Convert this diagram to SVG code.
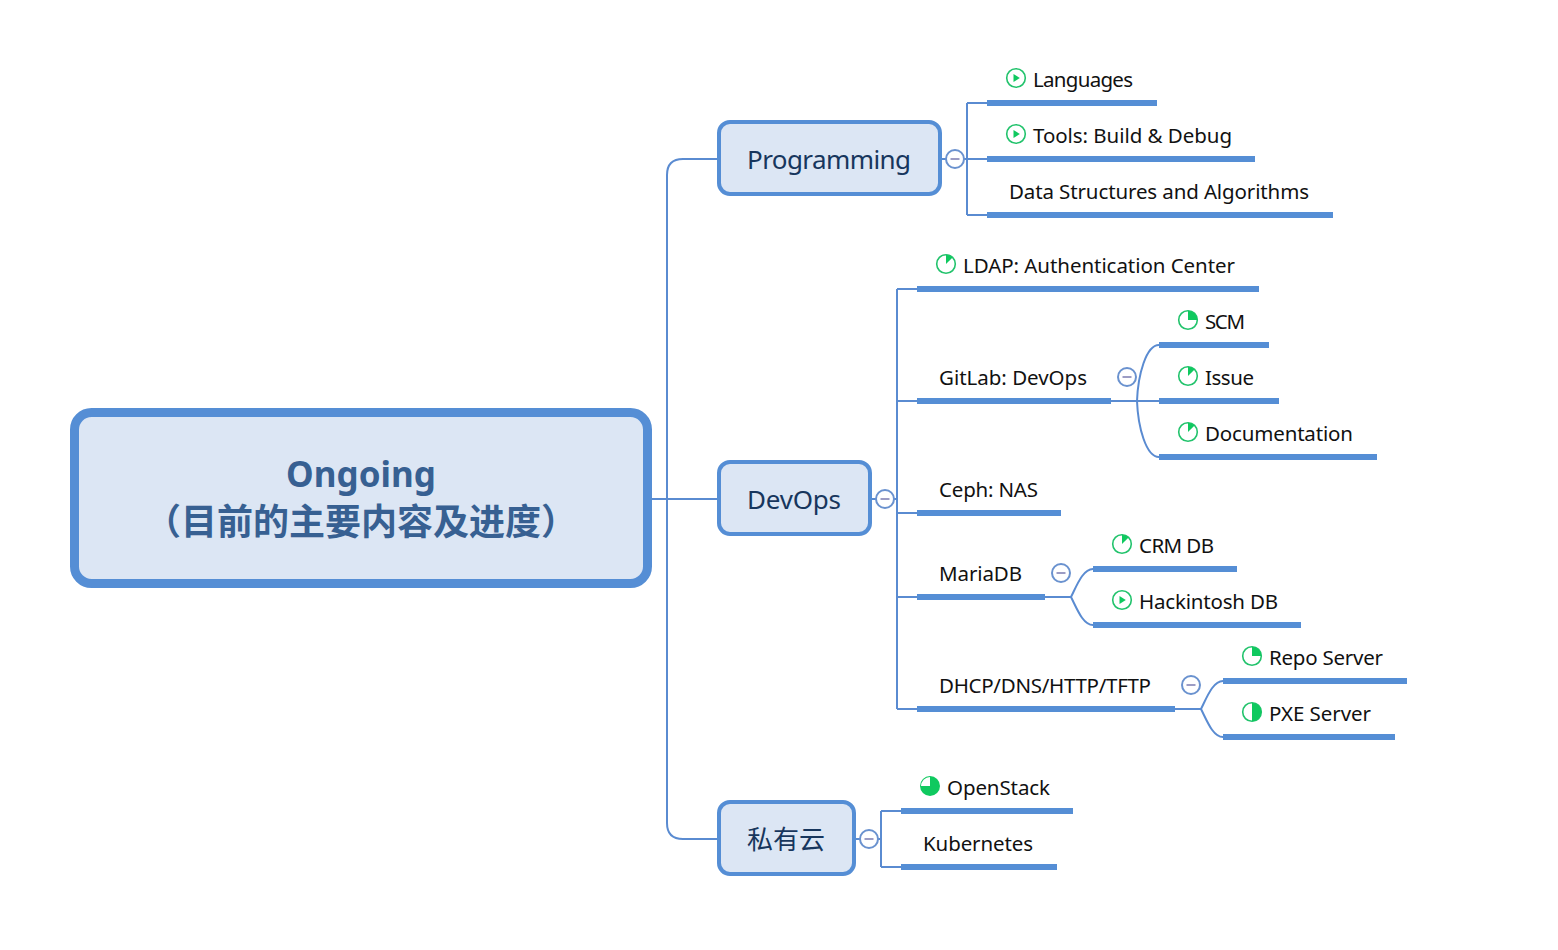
<svg xmlns="http://www.w3.org/2000/svg" width="1558" height="950" viewBox="0 0 1558 950">
<style>
text{font-family:"Noto Sans","Noto Sans CJK SC",sans-serif}
.c{fill:none;stroke:#5a8bd1;stroke-width:2}
.b{fill:#dce6f4;stroke:#558ed5}
.u{fill:#558ed5}
.t{font-size:20.5px;fill:#111}
.m{font-size:26px;fill:#17365d}
.r{font-size:35px;font-weight:700;fill:#376092;text-anchor:middle}
.k{fill:#fff;stroke:#6a92cf;stroke-width:2}
.d{stroke:#9c9cc4;stroke-width:2}
.i{fill:#fff;stroke:#22c36c;stroke-width:1.6}
.g{fill:#0fc95f}
</style>
<defs>
<g id="minus"><circle class="k" r="9"/><path class="d" d="M-4.500 0H4.500"/></g>
<g id="play"><circle class="i" r="9.300"/><path class="g" d="M-2.500-4 3.800 0-2.500 4Z"/></g>
<g id="p12"><circle class="i" r="9.300"/><path class="g" d="M0 0V-9.300A9.300 9.300 0 0 1 6.580-6.580Z"/></g>
<g id="p25"><circle class="i" r="9.300"/><path class="g" d="M0 0V-9.300A9.300 9.300 0 0 1 9.300 0Z"/></g>
<g id="p50"><circle class="i" r="9.300"/><path class="g" d="M0-9.300A9.300 9.300 0 0 1 0 9.300Z"/></g>
<g id="p75"><circle class="g" r="10"/><path fill="#fff" d="M0 0H-9A9 9 0 0 1 0-9Z"/></g>
</defs>
<g id="connectors">
<path class="c" d="M652 499H717"/>
<path class="c" d="M717 159H683Q667 159 667 175V823Q667 839 683 839H717"/>
<path class="c" d="M942 159H987M967 103H987M967 215H987M967 103V215"/>
<path class="c" d="M872 499H897M897 289V709M897 289H917M897 401H917M897 513H917M897 597H917M897 709H917"/>
<path class="c" d="M856 839H881M881 811V867M881 811H901M881 867H901"/>
<path class="c" d="M1111 401H1159M1159 345C1146 345 1138 375 1137 401C1138 427 1146 457 1159 457"/>
<path class="c" d="M1045 597H1071M1093 569C1083 569 1077 585 1071 597C1077 609 1083 625 1093 625"/>
<path class="c" d="M1175 709H1201M1223 681C1213 681 1207 697 1201 709C1207 721 1213 737 1223 737"/>
</g>
<g id="root"><rect class="b" x="74.500" y="412.500" width="573" height="171" rx="17" stroke-width="9"/>
<text class="r" x="361" y="487">Ongoing</text><text class="r" x="361" y="535" style="font-family:'Noto Sans CJK SC',sans-serif;font-size:36px">（目前的主要内容及进度）</text></g>
<g id="programming"><rect class="b" x="719" y="122" width="221" height="72" rx="11" stroke-width="4"/><text class="m" x="747" y="169" textLength="164">Programming</text><use href="#minus" x="955" y="159"/></g>
<g id="devops"><rect class="b" x="719" y="462" width="151" height="72" rx="11" stroke-width="4"/><text class="m" x="747" y="509" textLength="94">DevOps</text><use href="#minus" x="885" y="499"/></g>
<g id="cloud"><rect class="b" x="719" y="802" width="135" height="72" rx="11" stroke-width="4"/><text class="m" x="747" y="849" style="font-family:'Noto Sans CJK SC',sans-serif">私有云</text><use href="#minus" x="869" y="839"/></g>
<g id="languages"><rect class="u" x="987" y="100" width="170" height="6"/><use href="#play" x="1016" y="78"/><text class="t" x="1033" y="87" textLength="100">Languages</text></g>
<g id="tools"><rect class="u" x="987" y="156" width="268" height="6"/><use href="#play" x="1016" y="134"/><text class="t" x="1033" y="143" textLength="199">Tools: Build &amp; Debug</text></g>
<g id="dsa"><rect class="u" x="987" y="212" width="346" height="6"/><text class="t" x="1009" y="199" textLength="300">Data Structures and Algorithms</text></g>
<g id="ldap"><rect class="u" x="917" y="286" width="342" height="6"/><use href="#p12" x="946" y="264"/><text class="t" x="963" y="273" textLength="272">LDAP: Authentication Center</text></g>
<g id="gitlab"><rect class="u" x="917" y="398" width="194" height="6"/><text class="t" x="939" y="385" textLength="148">GitLab: DevOps</text><use href="#minus" x="1127" y="377"/></g>
<g id="scm"><rect class="u" x="1159" y="342" width="110" height="6"/><use href="#p25" x="1188" y="320"/><text class="t" x="1205" y="329" textLength="40">SCM</text></g>
<g id="issue"><rect class="u" x="1159" y="398" width="120" height="6"/><use href="#p12" x="1188" y="376"/><text class="t" x="1205" y="385" textLength="49">Issue</text></g>
<g id="documentation"><rect class="u" x="1159" y="454" width="218" height="6"/><use href="#p12" x="1188" y="432"/><text class="t" x="1205" y="441" textLength="148">Documentation</text></g>
<g id="ceph"><rect class="u" x="917" y="510" width="144" height="6"/><text class="t" x="939" y="497" textLength="99">Ceph: NAS</text></g>
<g id="mariadb"><rect class="u" x="917" y="594" width="128" height="6"/><text class="t" x="939" y="581" textLength="83">MariaDB</text><use href="#minus" x="1061" y="573"/></g>
<g id="crm"><rect class="u" x="1093" y="566" width="144" height="6"/><use href="#p12" x="1122" y="544"/><text class="t" x="1139" y="553" textLength="75">CRM DB</text></g>
<g id="hackintosh"><rect class="u" x="1093" y="622" width="208" height="6"/><use href="#play" x="1122" y="600"/><text class="t" x="1139" y="609" textLength="139">Hackintosh DB</text></g>
<g id="dhcp"><rect class="u" x="917" y="706" width="258" height="6"/><text class="t" x="939" y="693" textLength="212">DHCP/DNS/HTTP/TFTP</text><use href="#minus" x="1191" y="685"/></g>
<g id="repo"><rect class="u" x="1223" y="678" width="184" height="6"/><use href="#p25" x="1252" y="656"/><text class="t" x="1269" y="665" textLength="114">Repo Server</text></g>
<g id="pxe"><rect class="u" x="1223" y="734" width="172" height="6"/><use href="#p50" x="1252" y="712"/><text class="t" x="1269" y="721" textLength="102">PXE Server</text></g>
<g id="openstack"><rect class="u" x="901" y="808" width="172" height="6"/><use href="#p75" x="930" y="786"/><text class="t" x="947" y="795" textLength="103">OpenStack</text></g>
<g id="kubernetes"><rect class="u" x="901" y="864" width="156" height="6"/><text class="t" x="923" y="851" textLength="110">Kubernetes</text></g>
</svg>
